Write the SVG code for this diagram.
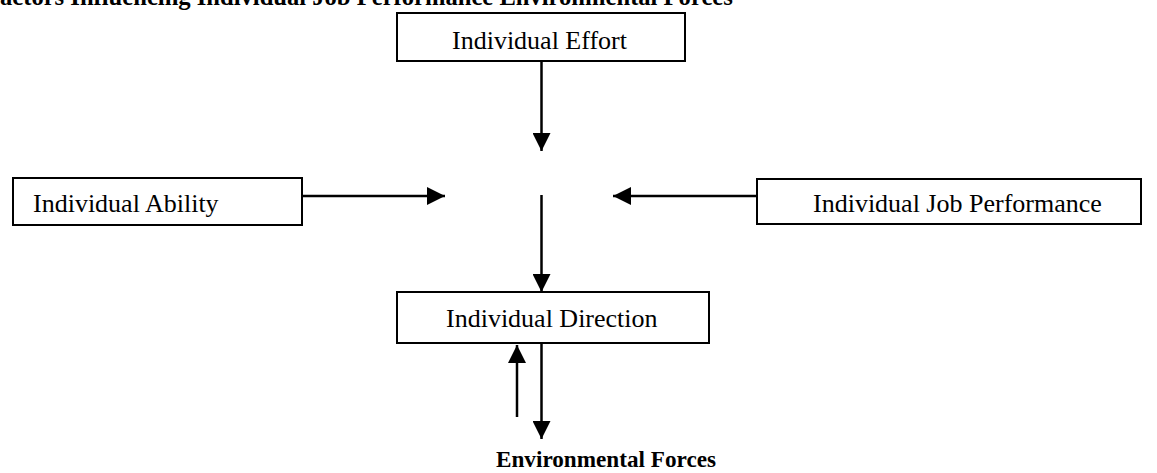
<svg xmlns="http://www.w3.org/2000/svg" width="1157" height="473" viewBox="0 0 1157 473">
<style>
.box{fill:#fff;stroke:#000;stroke-width:2}
.lbl{font-family:"Liberation Serif","Times New Roman",serif;font-size:26px;fill:#000}
.bold{font-family:"Liberation Serif","Times New Roman",serif;font-weight:bold;fill:#000}
.conn{stroke:#000;stroke-width:2.5;fill:none;marker-end:url(#ah)}
</style>
<defs>
<marker id="ah" markerUnits="userSpaceOnUse" markerWidth="18" markerHeight="18" viewBox="0 0 16 16" refX="16" refY="8" orient="auto">
<path d="M0,0 L16,8 L0,16 Z" fill="#000"/>
</marker>
</defs>
<rect width="1157" height="473" fill="#fff"/>
<text class="bold" x="0" y="5" font-size="24.6">actors Influencing Individual Job Performance Environmental Forces</text>
<g id="effort">
<rect class="box" x="397" y="13" width="288" height="48"/>
<text class="lbl" x="452" y="49">Individual Effort</text>
</g>
<g id="ability">
<rect class="box" x="13" y="178" width="289" height="47"/>
<text class="lbl" x="33" y="212">Individual Ability</text>
</g>
<g id="jobperf">
<rect class="box" x="757" y="179" width="384" height="45"/>
<text class="lbl" x="813" y="212">Individual Job Performance</text>
</g>
<g id="direction">
<rect class="box" x="397" y="292" width="312" height="51"/>
<text class="lbl" x="446" y="327">Individual Direction</text>
</g>
<g id="environment">
<text class="bold" x="496" y="467" font-size="23.2">Environmental Forces</text>
</g>
<g id="connectors">
<line class="conn" x1="541.5" y1="62" x2="541.5" y2="151"/>
<line class="conn" x1="302" y1="196" x2="445" y2="196"/>
<line class="conn" x1="757" y1="196" x2="613" y2="196"/>
<line class="conn" x1="541.5" y1="195" x2="541.5" y2="292"/>
<line class="conn" x1="517" y1="417" x2="517" y2="345"/>
<line class="conn" x1="541.5" y1="343" x2="541.5" y2="439"/>
</g>
</svg>
